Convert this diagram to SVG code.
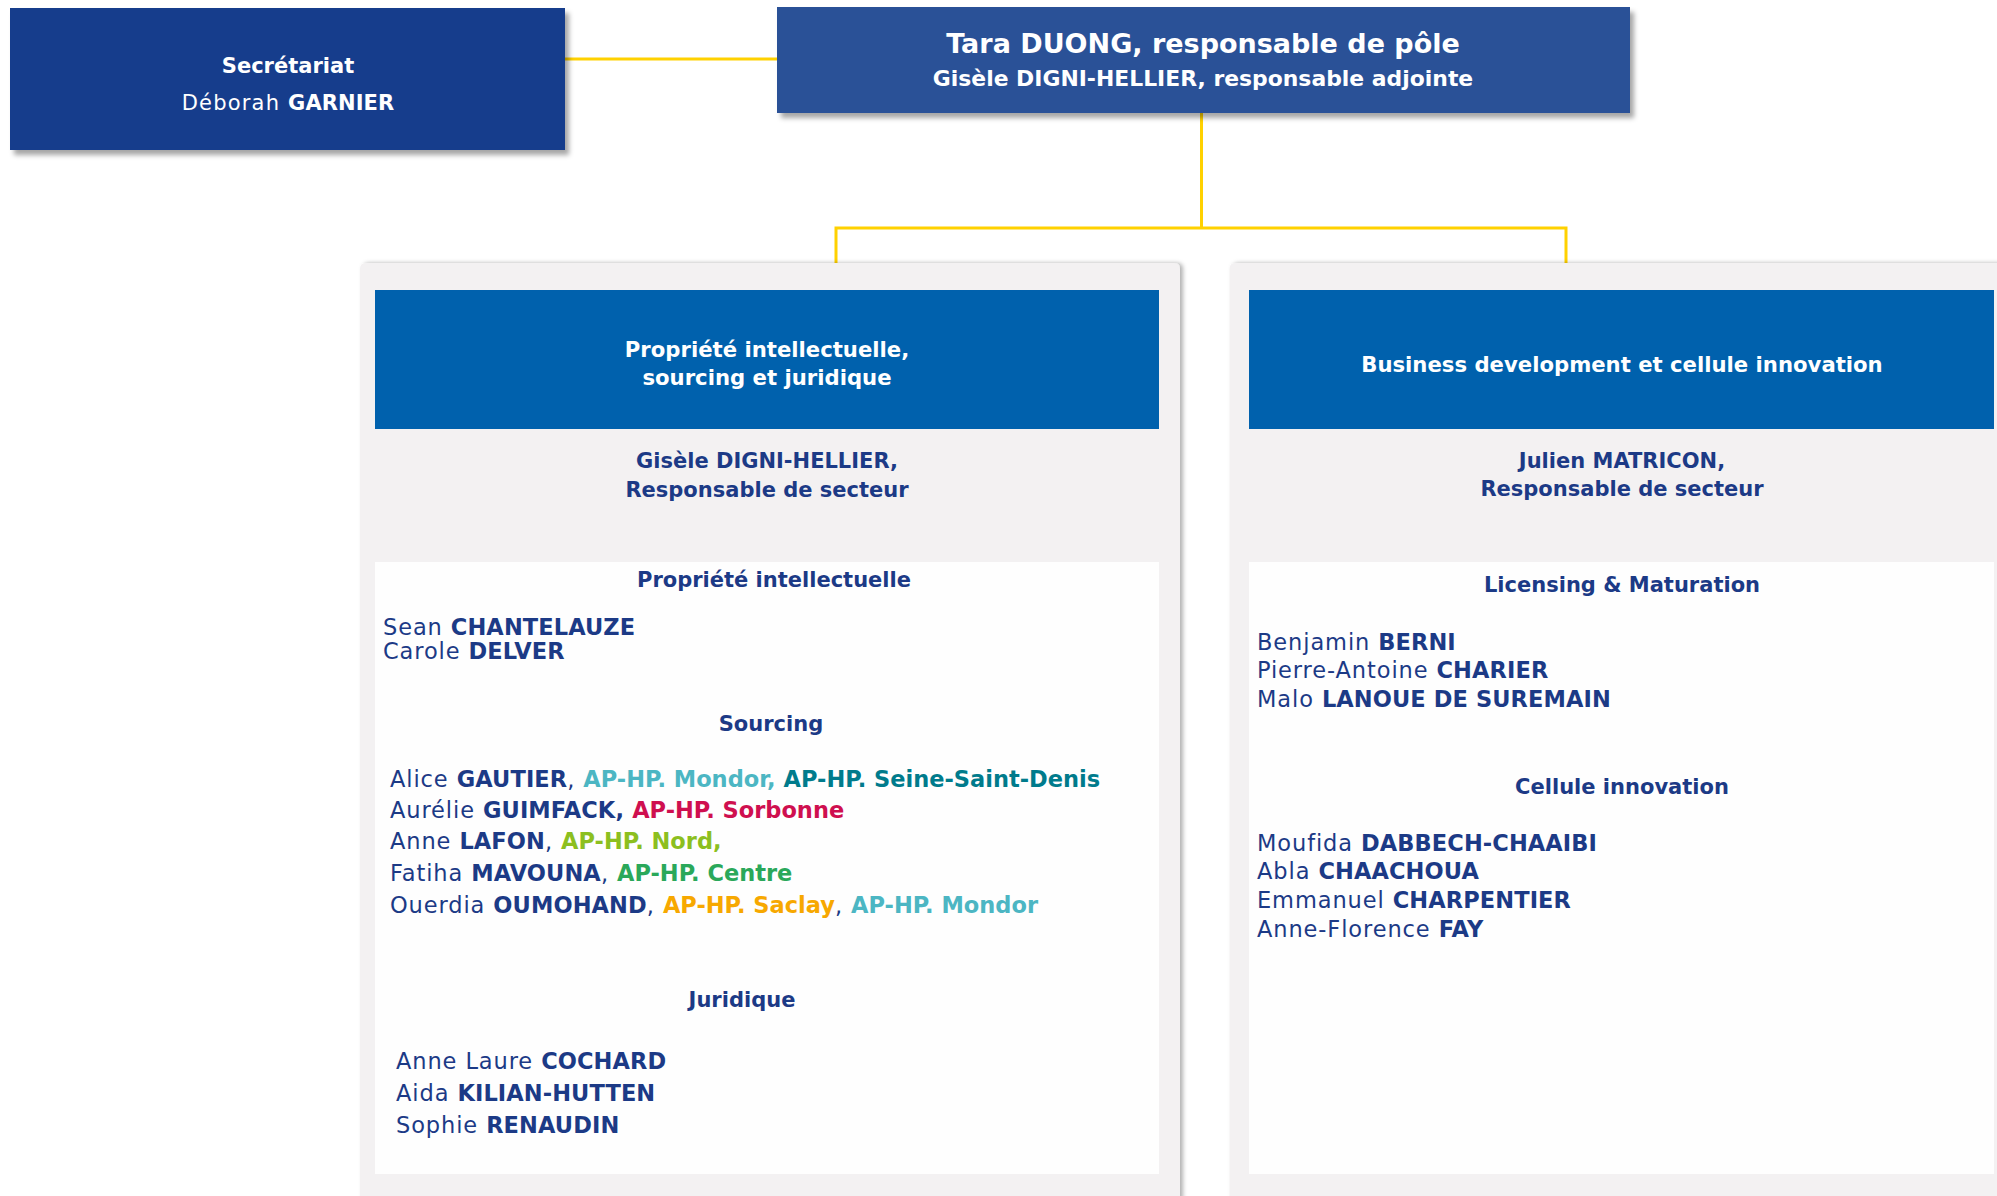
<svg xmlns="http://www.w3.org/2000/svg" width="1997" height="1196" viewBox="0 0 1997 1196">
<defs>
<filter id="sh" x="-5%" y="-10%" width="115%" height="130%">
<feDropShadow dx="4" dy="5" stdDeviation="2.5" flood-color="#000" flood-opacity="0.35"/>
</filter>
<filter id="shp" x="-5%" y="-5%" width="112%" height="115%">
<feDropShadow dx="3" dy="0" stdDeviation="2" flood-color="#000" flood-opacity="0.3"/>
</filter>
<style>
text{font-family:"DejaVu Sans","Liberation Sans",sans-serif;}
.w{fill:#ffffff;font-weight:bold;}
.t{fill:#1c3a86;font-weight:bold;font-size:21px;text-anchor:middle;}
.hd{font-size:21.2px;text-anchor:middle;}
.p{fill:#1c3a86;font-size:22.5px;letter-spacing:0.9px;}
.b{font-weight:bold;letter-spacing:0.1px;}
.conn{fill:none;stroke:#ffd100;stroke-width:3;}
.mondor{fill:#4cb6c3;font-weight:bold;letter-spacing:0;}
.ssd{fill:#007b8c;font-weight:bold;letter-spacing:0;}
.sorb{fill:#cf0f4f;font-weight:bold;letter-spacing:0;}
.nord{fill:#8cbf1f;font-weight:bold;letter-spacing:0;}
.centre{fill:#2aa85a;font-weight:bold;letter-spacing:0;}
.saclay{fill:#f7a800;font-weight:bold;letter-spacing:0;}
</style>
</defs>
<rect width="1997" height="1196" fill="#ffffff"/>

<g id="connectors">
<path class="conn" d="M565 59 H777"/>
<path class="conn" d="M1201.5 112 V228"/>
<path class="conn" d="M836 290 V228 H1566 V290"/>
</g>

<g id="secretariat">
<rect x="10" y="8" width="555" height="142" fill="#183e8c" filter="url(#sh)"/>
<text class="w" x="288" y="73" font-size="21" text-anchor="middle">Secrétariat</text>
<text x="288" y="110" font-size="21" text-anchor="middle" fill="#ffffff" letter-spacing="1.2">Déborah <tspan class="b">GARNIER</tspan></text>
</g>

<g id="responsable">
<rect x="777" y="7" width="853" height="106" fill="#2b5197" filter="url(#sh)"/>
<text class="w" x="1203" y="53" font-size="27" text-anchor="middle">Tara DUONG, responsable de pôle</text>
<text class="w" x="1203" y="86" font-size="21.9" text-anchor="middle">Gisèle DIGNI-HELLIER, responsable adjointe</text>
</g>

<g id="pole-pi">
<path d="M360 1200 V269 Q360 263 366 263 H1174 Q1180 263 1180 269 V1200 Z" fill="#f3f1f2" filter="url(#shp)"/>
<rect x="375" y="290" width="784" height="139" fill="#0061ad"/>
<text class="w hd" x="767" y="357">Propriété intellectuelle,</text>
<text class="w hd" x="767" y="385">sourcing et juridique</text>
<text class="t" x="767" y="468">Gisèle DIGNI-HELLIER,</text>
<text class="t" x="767" y="497">Responsable de secteur</text>
<rect x="375" y="562" width="784" height="612" fill="#fefefe"/>
<text class="t" x="774" y="587">Propriété intellectuelle</text>
<text class="p" x="383" y="635">Sean <tspan class="b">CHANTELAUZE</tspan></text>
<text class="p" x="383" y="659">Carole <tspan class="b">DELVER</tspan></text>
<text class="t" x="771" y="731">Sourcing</text>
<text class="p" x="390" y="787">Alice <tspan class="b">GAUTIER</tspan>, <tspan class="mondor">AP-HP. Mondor,</tspan> <tspan class="ssd">AP-HP. Seine-Saint-Denis</tspan></text>
<text class="p" x="390" y="818">Aurélie <tspan class="b">GUIMFACK,</tspan> <tspan class="sorb">AP-HP. Sorbonne</tspan></text>
<text class="p" x="390" y="849">Anne <tspan class="b">LAFON</tspan>, <tspan class="nord">AP-HP. Nord,</tspan></text>
<text class="p" x="390" y="881">Fatiha <tspan class="b">MAVOUNA</tspan>, <tspan class="centre">AP-HP. Centre</tspan></text>
<text class="p" x="390" y="913">Ouerdia <tspan class="b">OUMOHAND</tspan>, <tspan class="saclay">AP-HP. Saclay</tspan>, <tspan class="mondor">AP-HP. Mondor</tspan></text>
<text class="t" x="742" y="1007">Juridique</text>
<text class="p" x="396" y="1069">Anne Laure <tspan class="b">COCHARD</tspan></text>
<text class="p" x="396" y="1101">Aida <tspan class="b">KILIAN-HUTTEN</tspan></text>
<text class="p" x="396" y="1133">Sophie <tspan class="b">RENAUDIN</tspan></text>
</g>

<g id="pole-bd">
<path d="M1229.5 1200 V269 Q1229.5 263 1235.5 263 H2010 V1200 Z" fill="#f3f1f2" filter="url(#shp)"/>
<rect x="1249" y="290" width="745" height="139" fill="#0061ad"/>
<text class="w hd" x="1622" y="372">Business development et cellule innovation</text>
<text class="t" x="1622" y="468">Julien MATRICON,</text>
<text class="t" x="1622" y="496">Responsable de secteur</text>
<rect x="1249" y="562" width="745" height="612" fill="#fefefe"/>
<text class="t" x="1622" y="592">Licensing &amp; Maturation</text>
<text class="p" x="1257" y="650">Benjamin <tspan class="b">BERNI</tspan></text>
<text class="p" x="1257" y="678">Pierre-Antoine <tspan class="b">CHARIER</tspan></text>
<text class="p" x="1257" y="707">Malo <tspan class="b">LANOUE DE SUREMAIN</tspan></text>
<text class="t" x="1622" y="794">Cellule innovation</text>
<text class="p" x="1257" y="851">Moufida <tspan class="b">DABBECH-CHAAIBI</tspan></text>
<text class="p" x="1257" y="879">Abla <tspan class="b">CHAACHOUA</tspan></text>
<text class="p" x="1257" y="908">Emmanuel <tspan class="b">CHARPENTIER</tspan></text>
<text class="p" x="1257" y="937">Anne-Florence <tspan class="b">FAY</tspan></text>
</g>
</svg>
